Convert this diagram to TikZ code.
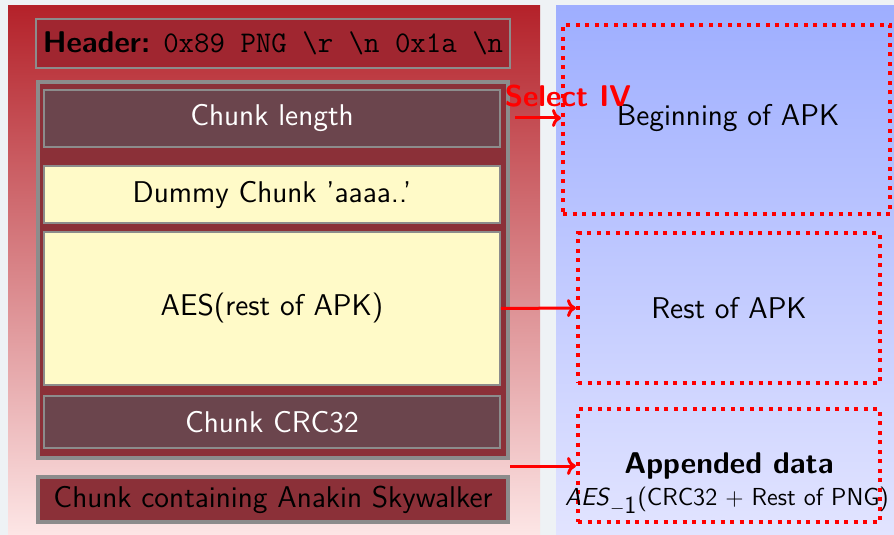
\documentclass[tikz,border=0pt]{standalone}
\usetikzlibrary{arrows.meta}
\definecolor{pagebg}{RGB}{238,242,245}
\definecolor{redtop}{RGB}{180,34,42}
\definecolor{redbot}{RGB}{253,230,230}
\definecolor{bluetop}{RGB}{158,174,255}
\definecolor{bluebot}{RGB}{226,228,255}
\definecolor{hdrfill}{RGB}{160,38,48}
\definecolor{chunkfill}{RGB}{139,48,56}
\definecolor{fieldfill}{RGB}{107,69,77}
\definecolor{datafill}{RGB}{255,250,200}
\definecolor{frame}{RGB}{140,140,140}
\definecolor{hot}{RGB}{255,0,0}
\tikzset{
  txt/.style={font=\sffamily\fontsize{15pt}{18pt}\selectfont, inner sep=0pt, align=center},
  smalltxt/.style={font=\sffamily\fontsize{12.3pt}{15pt}\selectfont, inner sep=0pt},
  hdrbox/.style={txt, draw=frame, line width=1pt, fill=hdrfill},
  chunkbox/.style={txt, draw=frame, line width=2pt, fill=chunkfill},
  fieldbox/.style={txt, draw=frame, line width=0.8pt, fill=fieldfill, text=white},
  databox/.style={txt, draw=frame, line width=0.8pt, fill=datafill, text=black},
  apkbox/.style={txt, draw=hot, line width=2pt, dash pattern=on 2pt off 2.75pt},
  link/.style={hot, line width=1.5pt, -{To[length=4.5pt,width=9pt]}},
}
\begin{document}
\begin{tikzpicture}[x=0.5pt,y=-0.5pt]
  % canvas
  \fill[pagebg] (0,0) rectangle (894,535);
  \useasboundingbox (0,0) rectangle (894,535);
  % PNG side and APK side panels
  \shade[top color=redtop, bottom color=redbot] (8,6) rectangle (540,535);
  \shade[top color=bluetop, bottom color=bluebot] (556,6) rectangle (894,535);

  % PNG layout
  \node[hdrbox, minimum width=237pt, minimum height=24.5pt] (hdr) at (273,43.5)
    {\textbf{Header:} \texttt{0x89 PNG \textbackslash r \textbackslash n 0x1a \textbackslash n}};
  \node[chunkbox, minimum width=235pt, minimum height=188pt] (chunk) at (273,270) {};
  \node[fieldbox, minimum width=228pt, minimum height=28.5pt] (len) at (272,118.5) {Chunk length};
  \node[databox, minimum width=228pt, minimum height=28.5pt] (dummy) at (272,194.5) {Dummy Chunk 'aaaa..'};
  \node[databox, minimum width=228pt, minimum height=76.5pt] (aes) at (272,308.5) {AES(rest of APK)};
  \node[fieldbox, minimum width=228pt, minimum height=26pt] (crc) at (272,422) {Chunk CRC32};
  \node[chunkbox, minimum width=235pt, minimum height=22.5pt] (anakin) at (273,499.5) {Chunk containing Anakin Skywalker};

  % APK layout
  \node[apkbox, minimum width=163.5pt, minimum height=94.5pt] (begin) at (726.5,119.5) {};
  \node[txt] (begintxt) at (728,118) {Beginning of APK};
  \node[apkbox, minimum width=151pt, minimum height=75pt] (rest) at (729,308) {Rest of APK};
  \node[apkbox, minimum width=151pt, minimum height=56.5pt] (app) at (729,465.5) {};
  \node[txt, anchor=base] (apptitle) at (729,473) {\textbf{Appended data}};
  \node[smalltxt, anchor=base] (appbody) at (727,505)
    {\textit{AES}$_{-\textsf{1}}$(CRC32 $+$ Rest of PNG)};

  % mapping arrows
  \coordinate (a1) at (515,118);
  \coordinate (a3) at (510,466);
  \draw[link] (a1) -- (begin.west |- a1);
  \node[font=\sffamily\bfseries\fontsize{15pt}{18pt}\selectfont, text=hot, inner sep=0pt, anchor=base] (iv) at (568,107) {Select IV};
  \draw[link] (aes.east) -- (rest.west);
  \draw[link] (a3) -- (app.west |- a3);
\end{tikzpicture}
\end{document}
